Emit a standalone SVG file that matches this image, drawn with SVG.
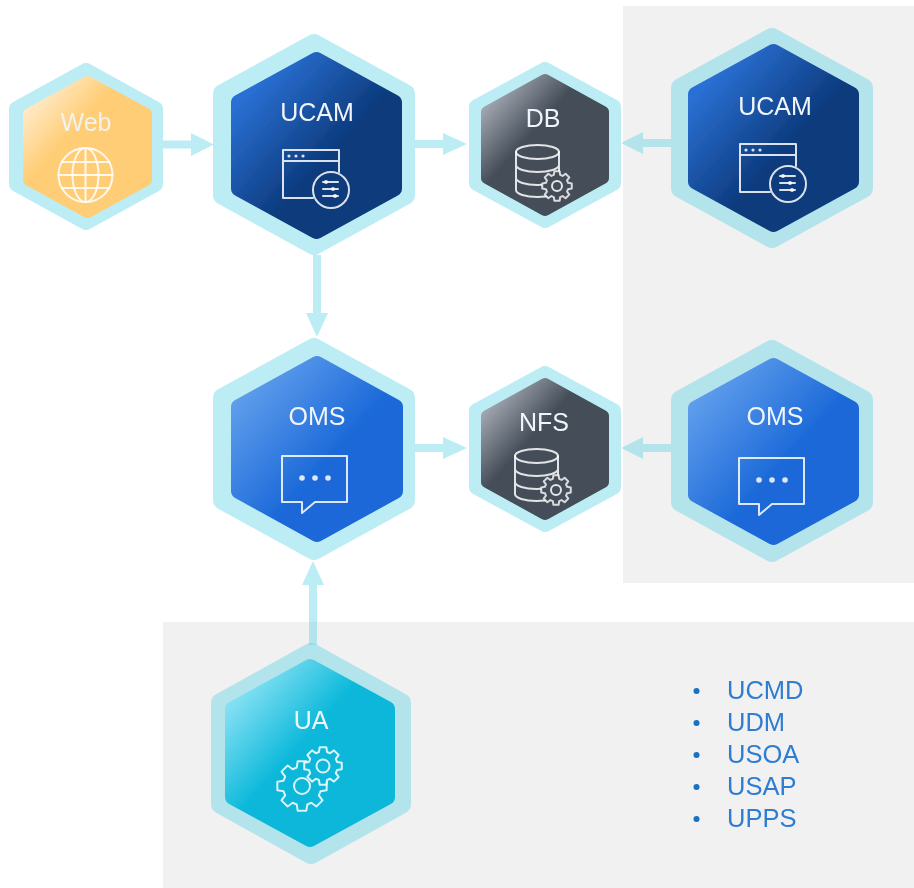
<svg xmlns="http://www.w3.org/2000/svg" width="914" height="888" viewBox="0 0 914 888">
<style>
text{font-family:"Liberation Sans",Arial,sans-serif;font-size:25px;text-anchor:middle;fill:#f1f5fb}
.list{text-anchor:start;fill:#2d7dd2;font-size:25.500px}
.halo{fill:#5ad2e6;stroke:#5ad2e6;stroke-linejoin:round;opacity:.4;stroke-width:20}
.halo.s{stroke-width:16}
.arrow{fill:#5ad2e6;opacity:.4}
.ic{fill:none;stroke:#fff;stroke-opacity:.85;stroke-width:2;stroke-linejoin:round;stroke-linecap:round}
.d{fill:#fff;fill-opacity:.85;stroke:none}
.in{stroke-linejoin:round}
</style>
<defs>
<filter id="soft" x="0" y="0" width="914" height="888" filterUnits="userSpaceOnUse"><feGaussianBlur stdDeviation="0.550"/></filter>
<linearGradient id="gW" x1="0" y1="0" x2="1" y2="1"><stop offset="0.03" stop-color="#fff0d8"/><stop offset="0.38" stop-color="#ffcd75"/></linearGradient>
<linearGradient id="gU" x1="0" y1="0" x2="1" y2="1"><stop offset="0.12" stop-color="#2a70d4"/><stop offset="0.58" stop-color="#0c3a7c"/></linearGradient>
<linearGradient id="gD" x1="0" y1="0" x2="1" y2="1"><stop offset="0.08" stop-color="#a5aab3"/><stop offset="0.4" stop-color="#444d59"/></linearGradient>
<linearGradient id="gO" x1="0" y1="0" x2="1" y2="1"><stop offset="0.1" stop-color="#5e9dec"/><stop offset="0.58" stop-color="#1a68d8"/></linearGradient>
<linearGradient id="gA" x1="0" y1="0" x2="1" y2="1"><stop offset="0.1" stop-color="#84e0f4"/><stop offset="0.46" stop-color="#07b7d9"/></linearGradient>
<polygon id="gear" points="-3.17,-11.05 -2.6,-14.77 2.6,-14.77 3.17,-11.05 5.58,-10.06 8.6,-12.29 12.29,-8.6 10.06,-5.58 11.05,-3.17 14.77,-2.6 14.77,2.6 11.05,3.17 10.06,5.58 12.29,8.6 8.6,12.29 5.58,10.06 3.17,11.05 2.6,14.77 -2.6,14.77 -3.17,11.05 -5.58,10.06 -8.6,12.29 -12.29,8.6 -10.06,5.58 -11.05,3.17 -14.77,2.6 -14.77,-2.6 -11.05,-3.17 -10.06,-5.58 -12.29,-8.6 -8.6,-12.29 -5.58,-10.06"/>
<g id="appIcon">
<path class="ic" d="M30,48H0V0H56V22M0,11H56"/>
<circle class="d" cx="6" cy="6" r="1.6"/><circle class="d" cx="13" cy="6" r="1.6"/><circle class="d" cx="20" cy="6" r="1.6"/>
<circle class="ic" cx="48" cy="40" r="18"/>
<path class="ic" d="M40,32H55M40,39H55M40,46H55"/>
<circle class="d" cx="43" cy="32" r="2"/><circle class="d" cx="50" cy="39" r="2"/><circle class="d" cx="52" cy="46" r="2"/>
</g>
<g id="dbIcon">
<ellipse class="ic" cx="21.5" cy="7" rx="21.5" ry="7"/>
<path class="ic" d="M0,7V45A21.5,7 0 0 0 43,45V7M0,20A21.5,7 0 0 0 43,20M0,33A21.5,7 0 0 0 43,33"/>
<use href="#gear" x="41" y="41" fill="#444d59" stroke="#fff" stroke-opacity=".8" stroke-width="2" stroke-linejoin="round"/>
<circle class="ic" cx="41" cy="41" r="5"/>
</g>
<g id="chatIcon">
<path class="ic" d="M0,0H65V46H33L20,57V46H0Z"/>
<circle class="d" cx="20" cy="22" r="2.8"/><circle class="d" cx="33" cy="22" r="2.8"/><circle class="d" cx="46" cy="22" r="2.8"/>
</g>
</defs>

<rect x="623" y="6" width="291" height="577" fill="#f1f1f1"/>
<rect x="163" y="622" width="751" height="266" fill="#f1f1f1"/>

<g filter="url(#soft)">
<g id="connectors">
<path class="arrow" d="M163,140.500H191V133L214,144.500L191,156V148.500H163Z"/>
<path class="arrow" d="M415,140H443V133L467,144L443,155V148H415Z"/>
<path class="arrow" d="M671,139H643V132L621,143L643,154V147H671Z"/>
<path class="arrow" d="M313,255V313H306L317,337L328,313H321V255Z"/>
<path class="arrow" d="M415,444H443V437L467,448L443,459V452H415Z"/>
<path class="arrow" d="M671,444H643V437L621,448L643,459V452H671Z"/>
<path class="arrow" d="M309,645V585H302L313,561L324,585H317V645Z"/>
</g>

<g id="web">
<polygon class="halo s" points="86,71 155,109 155,184 86,222 17,184 17,109"/>
<polygon fill="url(#gW)" stroke="url(#gW)" stroke-width="12" class="in" points="87.500,82 146,114 146,180 87.500,212 29,180 29,114"/>
<text x="86" y="131" fill-opacity=".9">Web</text>
<g class="ic">
<circle cx="85.500" cy="175" r="27"/><ellipse cx="85.500" cy="175" rx="13" ry="27"/>
<path d="M85.500,148V202M58.500,175H112.500M62,162H109M62,188H109"/>
</g>
</g>

<g id="ucam-1">
<polygon class="halo" points="314,44 405,94 405,195 314,245 223,195 223,94"/>
<polygon fill="url(#gU)" stroke="url(#gU)" stroke-width="16" class="in" points="316.500,60 394,102.600 394,188.400 316.500,231 239,188.400 239,102.600"/>
<text x="317" y="121">UCAM</text>
<use href="#appIcon" x="283" y="150"/>
</g>

<g id="db">
<polygon class="halo s" points="545,70 613,107 613,183 545,220 477,183 477,107"/>
<polygon fill="url(#gD)" stroke="url(#gD)" stroke-width="12" class="in" points="545,80 603,112 603,178 545,210 487,178 487,112"/>
<text x="543" y="127">DB</text>
<use href="#dbIcon" x="516" y="145"/>
</g>

<g id="ucam-2">
<polygon class="halo" points="772,38 863,88 863,188 772,238 681,188 681,88"/>
<polygon fill="url(#gU)" stroke="url(#gU)" stroke-width="16" class="in" points="773.500,52 851,94.600 851,181.400 773.500,224 696,181.400 696,94.600"/>
<text x="775" y="115">UCAM</text>
<use href="#appIcon" x="740" y="144"/>
</g>

<g id="oms-1">
<polygon class="halo" points="314,348 405,398 405,500 314,550 223,500 223,398"/>
<polygon fill="url(#gO)" stroke="url(#gO)" stroke-width="16" class="in" points="317,364 395,407 395,491 317,534 239,491 239,407"/>
<text x="317" y="425">OMS</text>
<use href="#chatIcon" x="282" y="456"/>
</g>

<g id="nfs">
<polygon class="halo s" points="545,374 613,411 613,487 545,524 477,487 477,411"/>
<polygon fill="url(#gD)" stroke="url(#gD)" stroke-width="12" class="in" points="545,384 603,416 603,482 545,514 487,482 487,416"/>
<text x="544" y="431">NFS</text>
<use href="#dbIcon" x="515" y="449"/>
</g>

<g id="oms-2">
<polygon class="halo" points="772,350 863,400 863,502 772,552 681,502 681,400"/>
<polygon fill="url(#gO)" stroke="url(#gO)" stroke-width="16" class="in" points="773.500,366 851,408.600 851,494.400 773.500,537 696,494.400 696,408.600"/>
<text x="775" y="425">OMS</text>
<use href="#chatIcon" x="739" y="458"/>
</g>

<g id="ua">
<polygon class="halo" points="311,653 401,703 401,804 311,854 221,804 221,703"/>
<polygon fill="url(#gA)" stroke="url(#gA)" stroke-width="16" class="in" points="310,667 387,709 387,797 310,839 233,797 233,709"/>
<text x="311" y="729">UA</text>
<use href="#gear" transform="translate(302,786) scale(1.670)" fill="none" stroke="#fff" stroke-opacity=".85" stroke-width="1.200" stroke-linejoin="round"/>
<circle class="ic" cx="302" cy="786" r="8"/>
<use href="#gear" transform="translate(323,766) scale(1.270)" fill="#08b7d9" stroke="#fff" stroke-opacity=".85" stroke-width="1.600" stroke-linejoin="round"/>
<circle class="ic" cx="323" cy="766" r="6.500"/>
</g>

<g id="list" fill="#1a6fc4">
<circle cx="696.500" cy="691" r="3"/><circle cx="696.500" cy="723" r="3"/><circle cx="696.500" cy="755" r="3"/><circle cx="696.500" cy="787" r="3"/><circle cx="696.500" cy="819" r="3"/>
<text class="list" x="727" y="699">UCMD</text>
<text class="list" x="727" y="731">UDM</text>
<text class="list" x="727" y="763">USOA</text>
<text class="list" x="727" y="795">USAP</text>
<text class="list" x="727" y="827">UPPS</text>
</g>
</g>
</svg>
